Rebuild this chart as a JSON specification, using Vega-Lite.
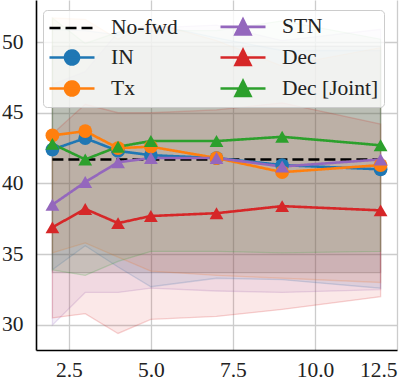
{
  "$schema": "https://vega.github.io/schema/vega-lite/v6.json",
  "width": 361,
  "height": 350,
  "autosize": {"type": "none"},
  "padding": {"left": 36, "top": 0, "right": 19, "bottom": 35},
  "background": "white",
  "config": {
    "view": {"stroke": null},
    "font": "serif",
    "axis": {
      "labelFont": "serif",
      "labelFontSize": 21.5,
      "labelColor": "#222222",
      "gridColor": "#cccccc",
      "gridWidth": 1.3,
      "ticks": false,
      "tickSize": 0,
      "domainColor": "#000000",
      "domainWidth": 1.6,
      "title": null
    },
    "legend": {"labelFont": "serif"}
  },
  "datasets": {
    "pts": [
      {"series": "No-fwd", "x": 2, "m": 41.7, "lo": 33.7, "hi": 49.7},
      {"series": "No-fwd", "x": 3, "m": 41.7, "lo": 33.7, "hi": 49.7},
      {"series": "No-fwd", "x": 4, "m": 41.7, "lo": 33.7, "hi": 49.7},
      {"series": "No-fwd", "x": 5, "m": 41.7, "lo": 33.7, "hi": 49.7},
      {"series": "No-fwd", "x": 7, "m": 41.7, "lo": 33.7, "hi": 49.7},
      {"series": "No-fwd", "x": 9, "m": 41.7, "lo": 33.7, "hi": 49.7},
      {"series": "No-fwd", "x": 12, "m": 41.7, "lo": 33.7, "hi": 49.7},
      {"series": "IN", "x": 2, "m": 42.4, "lo": 33.9, "hi": 50.9},
      {"series": "IN", "x": 3, "m": 43.2, "lo": 35.6, "hi": 50.8},
      {"series": "IN", "x": 4, "m": 42.3, "lo": 34.1, "hi": 50.5},
      {"series": "IN", "x": 5, "m": 42.0, "lo": 32.7, "hi": 51.3},
      {"series": "IN", "x": 7, "m": 41.8, "lo": 33.3, "hi": 50.3},
      {"series": "IN", "x": 9, "m": 41.3, "lo": 33.2, "hi": 49.4},
      {"series": "IN", "x": 12, "m": 41.0, "lo": 32.6, "hi": 49.4},
      {"series": "Tx", "x": 2, "m": 43.4, "lo": 35.1, "hi": 51.7},
      {"series": "Tx", "x": 3, "m": 43.7, "lo": 35.8, "hi": 51.6},
      {"series": "Tx", "x": 4, "m": 42.5, "lo": 34.8, "hi": 50.2},
      {"series": "Tx", "x": 5, "m": 42.6, "lo": 33.8, "hi": 51.4},
      {"series": "Tx", "x": 7, "m": 41.8, "lo": 33.5, "hi": 50.1},
      {"series": "Tx", "x": 9, "m": 40.8, "lo": 33.3, "hi": 48.3},
      {"series": "Tx", "x": 12, "m": 41.3, "lo": 33.0, "hi": 49.6},
      {"series": "STN", "x": 2, "m": 38.5, "lo": 30.0, "hi": 47.0},
      {"series": "STN", "x": 3, "m": 40.1, "lo": 32.3, "hi": 47.9},
      {"series": "STN", "x": 4, "m": 41.5, "lo": 32.3, "hi": 50.7},
      {"series": "STN", "x": 5, "m": 41.8, "lo": 32.6, "hi": 51.0},
      {"series": "STN", "x": 7, "m": 41.8, "lo": 32.4, "hi": 51.2},
      {"series": "STN", "x": 9, "m": 41.2, "lo": 32.3, "hi": 50.1},
      {"series": "STN", "x": 12, "m": 41.7, "lo": 32.5, "hi": 50.9},
      {"series": "Dec", "x": 2, "m": 36.9, "lo": 30.5, "hi": 43.5},
      {"series": "Dec", "x": 3, "m": 38.2, "lo": 30.8, "hi": 45.6},
      {"series": "Dec", "x": 4, "m": 37.2, "lo": 29.4, "hi": 45.0},
      {"series": "Dec", "x": 5, "m": 37.7, "lo": 30.4, "hi": 45.0},
      {"series": "Dec", "x": 7, "m": 37.9, "lo": 30.6, "hi": 45.2},
      {"series": "Dec", "x": 9, "m": 38.4, "lo": 31.1, "hi": 45.7},
      {"series": "Dec", "x": 12, "m": 38.1, "lo": 32.0, "hi": 44.2},
      {"series": "Dec [Joint]", "x": 2, "m": 42.8, "lo": 33.9, "hi": 51.7},
      {"series": "Dec [Joint]", "x": 3, "m": 41.7, "lo": 33.5, "hi": 49.9},
      {"series": "Dec [Joint]", "x": 4, "m": 42.6, "lo": 34.5, "hi": 50.7},
      {"series": "Dec [Joint]", "x": 5, "m": 43.0, "lo": 35.2, "hi": 50.8},
      {"series": "Dec [Joint]", "x": 7, "m": 43.0, "lo": 35.2, "hi": 50.8},
      {"series": "Dec [Joint]", "x": 9, "m": 43.3, "lo": 35.1, "hi": 51.5},
      {"series": "Dec [Joint]", "x": 12, "m": 42.7, "lo": 35.2, "hi": 50.2}
    ]
  },
  "data": {"name": "pts"},
  "encoding": {
    "x": {
      "field": "x", "type": "quantitative",
      "scale": {"domain": [1.5, 12.5], "nice": false, "zero": false},
      "axis": {"values": [2.5, 5, 7.5, 10, 12.5], "format": ".1f", "labelPadding": 9, "labelFont": "serif"}
    }
  },
  "layer": [
    {
      "mark": {"type": "area", "fillOpacity": 0.105, "strokeOpacity": 0.2, "strokeWidth": 1.3},
      "encoding": {
        "y": {"field": "lo", "type": "quantitative", "stack": null,
              "scale": {"domain": [28.23, 52.97], "nice": false, "zero": false},
              "axis": {"values": [30, 35, 40, 45, 50], "labelPadding": 13, "labelFont": "serif"}},
        "y2": {"field": "hi"},
        "color": {"field": "series", "type": "nominal"},
        "stroke": {"field": "series", "type": "nominal", "legend": null,
                   "scale": {"domain": ["No-fwd", "IN", "Tx", "STN", "Dec", "Dec [Joint]"],
                             "range": ["#000000", "#1f77b4", "#ff7f0e", "#9467bd", "#d62728", "#2ca02c"]}},
        "strokeDash": {"field": "series", "type": "nominal", "legend": null}
      }
    },
    {
      "mark": {"type": "line", "strokeWidth": 2.6},
      "encoding": {
        "y": {"field": "m", "type": "quantitative"},
        "color": {
          "field": "series", "type": "nominal",
          "scale": {"domain": ["No-fwd", "IN", "Tx", "STN", "Dec", "Dec [Joint]"],
                    "range": ["#000000", "#1f77b4", "#ff7f0e", "#9467bd", "#d62728", "#2ca02c"]},
          "legend": {
            "title": null,
            "orient": "none",
            "legendX": 7,
            "legendY": 10,
            "columns": 2,
            "columnPadding": 37,
            "rowPadding": 4,
            "padding": 5,
            "fillColor": "rgba(255,255,255,0.8)",
            "strokeColor": "#cccccc",
            "cornerRadius": 4,
            "labelFont": "serif",
            "labelFontSize": 21.5,
            "labelColor": "#222222",
            "labelOffset": 40,
            "symbolSize": 400,
            "symbolStrokeWidth": 2.6,
            "encode": {
              "symbols": {
                "update": {
                  "shape": {"signal": "datum.value === 'No-fwd' ? 'M-1,0H3.5' : (datum.value === 'IN' || datum.value === 'Tx') ? 'M-1,0H3.5M1.95,0A0.7,0.7,0,1,1,0.55,0A0.7,0.7,0,1,1,1.95,0Z' : 'M-1,0H3.5M1.25,-0.75L2,0.75L0.5,0.75Z'"},
                  "fill": {"scale": "color", "field": "value"},
                  "stroke": {"scale": "color", "field": "value"},
                  "strokeDash": {"signal": "datum.value === 'No-fwd' ? [11, 5] : [1, 0]"},
                  "opacity": {"value": 1},
                  "fillOpacity": {"value": 1},
                  "strokeOpacity": {"value": 1}
                }
              }
            }
          }
        },
        "strokeDash": {
          "field": "series", "type": "nominal", "legend": null,
          "scale": {"domain": ["No-fwd", "IN", "Tx", "STN", "Dec", "Dec [Joint]"],
                    "range": [[11, 5], [1, 0], [1, 0], [1, 0], [1, 0], [1, 0]]}
        }
      }
    },
    {
      "transform": [{"filter": "datum.series !== 'No-fwd'"}],
      "mark": {"type": "point", "filled": true, "opacity": 1, "size": 190},
      "encoding": {
        "y": {"field": "m", "type": "quantitative"},
        "color": {"field": "series", "type": "nominal"},
        "shape": {
          "field": "series", "type": "nominal", "legend": null,
          "scale": {"domain": ["IN", "Tx", "STN", "Dec", "Dec [Joint]"],
                    "range": ["circle", "circle", "triangle-up", "triangle-up", "triangle-up"]}
        }
      }
    }
  ]
}
